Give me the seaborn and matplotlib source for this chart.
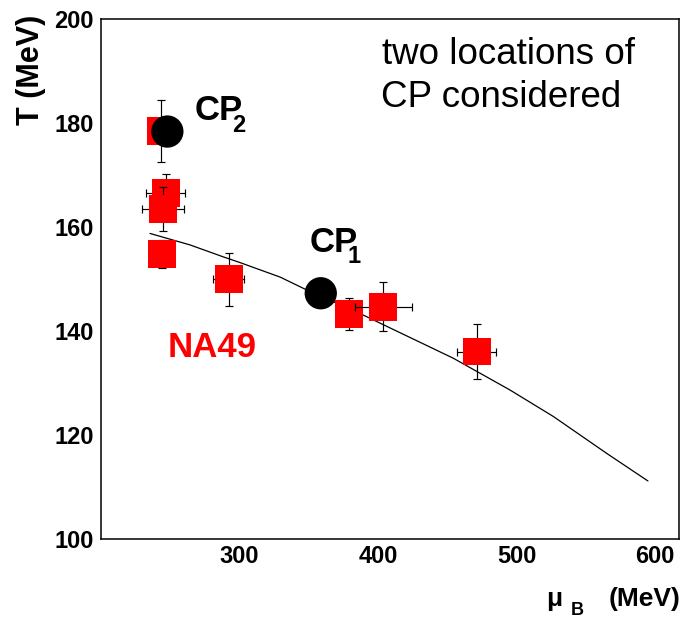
import matplotlib
matplotlib.use("Agg")
import matplotlib.pyplot as plt
import seaborn as sns
import pandas as pd

# ---------------- data ----------------
# NA49 chemical freeze-out points: mu_B (MeV), T (MeV) and their errors
na49_mu = [243.6, 246.9, 245.1, 244.0, 292.3, 379.2, 403.9, 471.2]
na49_T = [178.4, 166.4, 163.4, 154.7, 149.9, 143.2, 144.6, 136.0]
na49_mu_err = [3.0, 14.0, 15.0, 3.0, 11.0, 8.0, 20.5, 14.0]
na49_T_err = [5.9, 3.8, 4.2, 2.7, 5.1, 3.0, 4.75, 5.2]

# two considered critical-point locations
cp_mu = [248.2, 358.8]
cp_T = [178.3, 147.2]
cp_sub = ["2", "1"]

# freeze-out curve
curve_mu = [235.7, 264.5, 288.5, 300.6, 329.6, 347.4, 389.5, 454.4,
            495.2, 526.5, 565.0, 594.7]
curve_T = [158.7, 156.5, 154.2, 153.1, 150.3, 148.0, 143.0, 134.7,
           128.6, 123.5, 116.4, 111.1]

x_ticks = [300, 400, 500, 600]
y_ticks = [100, 120, 140, 160, 180, 200]

# ---------------- styling ----------------
sns.set_theme(style="white")
plt.rcParams['font.family'] = ['Liberation Sans', 'DejaVu Sans']

W, H = 681, 620
fig = plt.figure(figsize=(W / 100, H / 100), dpi=100)
fig.patch.set_facecolor("white")


def fx(px):
    return px / W


def fy(py):
    return 1 - py / H


ax = fig.add_axes([fx(100.5), fy(538.7), (679.3 - 100.5) / W, (538.7 - 18.7) / H])
ax.set_facecolor("white")

na49 = pd.DataFrame({"mu": na49_mu, "T": na49_T,
                     "mu_err": na49_mu_err, "T_err": na49_T_err})
cp = pd.DataFrame({"mu": cp_mu, "T": cp_T})
curve = pd.DataFrame({"mu": curve_mu, "T": curve_T})

sns.lineplot(data=curve, x="mu", y="T", ax=ax, color="black",
             linewidth=0.9, sort=False, zorder=2)

for i, row in na49.iterrows():
    ax.errorbar(row["mu"], row["T"], xerr=row["mu_err"], yerr=row["T_err"],
                fmt="none", ecolor="black", elinewidth=0.85, capsize=2.8,
                capthick=0.85, zorder=3 + 2 * i)
    sns.scatterplot(x=[row["mu"]], y=[row["T"]], ax=ax, marker="s", s=406,
                    color="#ff0000", edgecolor="none", linewidth=0,
                    legend=False, zorder=4 + 2 * i)

sns.scatterplot(data=cp, x="mu", y="T", ax=ax, marker="o", s=541,
                color="black", edgecolor="none", linewidth=0,
                legend=False, zorder=50)

ax.set_xlim(200, 617.3)
ax.set_ylim(100, 200)
ax.set_xticks(x_ticks)
ax.set_yticks(y_ticks)
ax.set_xticklabels([str(v) for v in x_ticks], fontsize=17, fontweight="bold")
ax.set_yticklabels([str(v) for v in y_ticks], fontsize=17, fontweight="bold")
ax.tick_params(axis="both", which="both", direction="in", colors="black",
               width=0.9, top=False, right=False)
ax.tick_params(axis="y", length=13, pad=4.6)
ax.tick_params(axis="x", length=11.5, pad=4.4)
ax.set_xlabel("")
ax.set_ylabel("")
for sp in ax.spines.values():
    sp.set_visible(True)
    sp.set_color("black")
    sp.set_linewidth(1.1)
ax.grid(False)

# ---------------- texts ----------------
fig.text(fx(381.5), fy(64.3), "two locations of", fontsize=26.5,
         ha="left", va="baseline", color="black")
fig.text(fx(381.0), fy(106.7), "CP considered", fontsize=26.5,
         ha="left", va="baseline", color="black")

# CP labels (subscript tucked under the P as in the reference)
fig.text(fx(194.5), fy(120.0), "CP", fontsize=25, fontweight="bold",
         ha="left", va="baseline", color="black")
fig.text(fx(232.0), fy(131.7), cp_sub[0], fontsize=17, fontweight="bold",
         ha="left", va="baseline", color="black")
fig.text(fx(309.2), fy(251.7), "CP", fontsize=25, fontweight="bold",
         ha="left", va="baseline", color="black")
fig.text(fx(347.5), fy(262.7), cp_sub[1], fontsize=17, fontweight="bold",
         ha="left", va="baseline", color="black")

fig.text(fx(167.5), fy(356.7), "NA49", fontsize=25, fontweight="bold",
         ha="left", va="baseline", color="#ff0000")

# axis titles
fig.text(fx(31.0), fy(15.0), "T (MeV)", fontsize=22, fontweight="bold",
         rotation=90, ha="center", va="top", color="black")
fig.text(fx(680.5), fy(606.0), "(MeV)", fontsize=19, fontweight="bold",
         ha="right", va="baseline", color="black")
fig.text(fx(546.5), fy(606.0), "μ", fontsize=19, fontweight="bold",
         ha="left", va="baseline", color="black")
fig.text(fx(570.5), fy(615.0), "B", fontsize=13, fontweight="bold",
         ha="left", va="baseline", color="black")

fig.savefig("out.png", dpi=100, facecolor="white")
